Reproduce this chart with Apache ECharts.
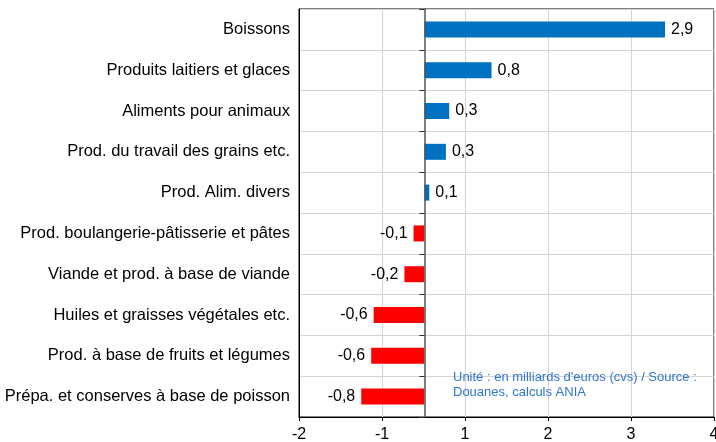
<!DOCTYPE html>
<html>
<head>
<meta charset="utf-8">
<script src="https://cdn.jsdelivr.net/npm/echarts@6/dist/echarts.min.js"></script>
<style>
    html, body { margin: 0; padding: 0; background: #fff; }
    #chart { width: 716px; height: 442px; }
</style>
</head>
<body>
<div id="chart"></div>
<script>
// catégories, de haut en bas
var categories = [
    "Boissons",
    "Produits laitiers et glaces",
    "Aliments pour animaux",
    "Prod. du travail des grains etc.",
    "Prod. Alim. divers",
    "Prod. boulangerie-pâtisserie et pâtes",
    "Viande et prod. à base de viande",
    "Huiles et graisses végétales etc.",
    "Prod. à base de fruits et légumes",
    "Prépa. et conserves à base de poisson"
];
// solde, en milliards d'euros
var values = [2.9, 0.81, 0.30, 0.26, 0.06, -0.13, -0.24, -0.61, -0.64, -0.76];
// libellés de l'axe du bas (tels qu'affichés)
var tickLabels = ["-2", "-1", "1", "2", "3", "4"];
var note = "Unité : en milliards d'euros (cvs) / Source :\nDouanes, calculs ANIA";

var FONT = "'Liberation Sans', Arial, sans-serif";

var chart = echarts.init(document.getElementById("chart"));

var barData = values.map(function (v) {
    return {
        value: v,
        label: { position: v >= 0 ? "right" : "left" }
    };
});

var option = {
    backgroundColor: "#fff",
    animation: false,
    textStyle: { fontFamily: FONT },
    grid: {
        left: 299,
        right: 2,
        top: 9,
        bottom: 25,
        outerBoundsMode: "none",
        show: true,
        borderColor: "#000",
        borderWidth: 1
    },
    xAxis: [
        {
            // axe des données (caché)
            type: "value",
            min: -1.51,
            max: 3.49,
            show: false
        },
        {
            // axe affiché
            type: "value",
            position: "bottom",
            min: 0,
            max: 5,
            interval: 1,
            axisLine: { show: true, onZero: false, lineStyle: { color: "#000", width: 1 } },
            axisTick: { show: true, length: 4, lineStyle: { color: "#000" } },
            axisLabel: {
                fontSize: 16,
                color: "#000",
                fontFamily: FONT,
                margin: 10,
                showMinLabel: true,
                showMaxLabel: true,
                formatter: function (v) { return tickLabels[Math.round(v)]; }
            },
            splitLine: { show: true, lineStyle: { color: "#d4d4d4", width: 1 } }
        }
    ],
    yAxis: [
        {
            type: "category",
            data: categories,
            inverse: true,
            position: "left",
            axisLine: { show: true, onZero: false, lineStyle: { color: "#000" } },
            axisTick: { show: false },
            axisLabel: { fontSize: 16.5, color: "#000", fontFamily: FONT, margin: 9 },
            splitLine: { show: true, lineStyle: { color: "#d4d4d4", width: 1 } }
        },
        {
            // ligne du zéro
            type: "category",
            data: categories,
            inverse: true,
            position: "left",
            z: 5,
            axisLine: { show: true, onZero: true, onZeroAxisIndex: 0, lineStyle: { color: "#555", width: 1.5 } },
            axisTick: { show: true, length: 5, lineStyle: { color: "#333" } },
            axisLabel: { show: false },
            splitLine: { show: false }
        }
    ],
    series: [
        {
            type: "bar",
            xAxisIndex: 0,
            yAxisIndex: 0,
            data: barData,
            barWidth: 16,
            itemStyle: {
                color: function (p) { return p.value >= 0 ? "#0070C0" : "#FF0000"; }
            },
            label: {
                show: true,
                distance: 6,
                fontSize: 16,
                color: "#000",
                fontFamily: FONT,
                formatter: function (p) { return p.value.toFixed(1).replace(".", ","); }
            }
        }
    ],
    graphic: [
        {
            type: "text",
            left: 453,
            top: 370,
            z: 10,
            style: {
                text: note,
                fill: "#2E75D2",
                font: "13px " + FONT,
                lineHeight: 15
            }
        }
    ]
};

chart.setOption(option);
</script>
</body>
</html>
